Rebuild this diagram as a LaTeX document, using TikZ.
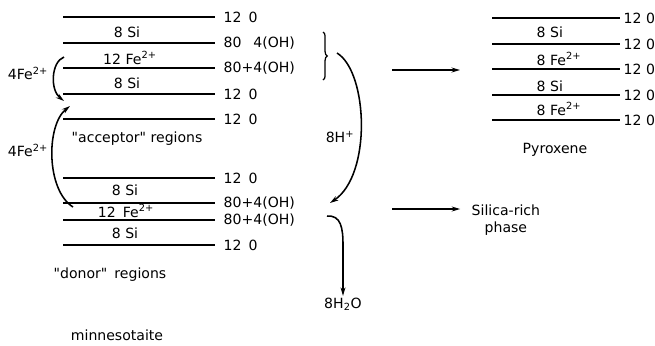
\documentclass[tikz,border=0pt]{standalone}
\usepackage{fontspec}
\setmainfont{DejaVu Sans}[Ligatures=TeXOff]
\usetikzlibrary{arrows.meta,decorations.pathreplacing}

\begin{document}
\begin{tikzpicture}[>={Stealth[length=6pt,width=3.5pt]}, x=0.025cm, y=-0.025cm,
    layer/.style={line width=1.1pt},
    ox/.style={anchor=west, inner sep=1pt},
    cat/.style={anchor=base, inner sep=1pt},
    lab/.style={inner sep=1pt},
    flow/.style={->, line width=1.1pt}]
    \useasboundingbox (0,0) rectangle (655,345);
    % minnesotaite layers
    \foreach \y/\t [count=\i] in {17/12\enspace0, 43/80\phantom{+}4(OH), 68/80+4(OH), 94/12\enspace0, 119/12\enspace0,
        178/12\enspace0, 203/80+4(OH), 220/80+4(OH), 245/12\enspace0} {
        \draw[layer] (63,\y) -- (215,\y);
        \node[ox] (m\i) at (222,\y) {\t};
    }
    \node[cat] (c1) at (127,37) {8 Si};
    \node[cat] (c2) at (130,64) {12 Fe\textsuperscript{2+}};
    \node[cat] (c3) at (127,88) {8 Si};
    \node[cat] (c4) at (125,195) {8 Si};
    \node[cat] (c5) at (126,217) {12\enspace Fe\textsuperscript{2+}};
    \node[cat] (c6) at (125,238) {8 Si};
    \node[lab, anchor=west] (acc) at (70,139) {"acceptor" regions};
    \node[lab, anchor=west] (don) at (52,275) {"donor"\enspace regions};
    \node[lab] (min) at (117,335) {minnesotaite};
    % pyroxene layers
    \foreach \y [count=\i] in {18,44,69,95,120} {
        \draw[layer] (492,\y) -- (620,\y);
        \node[ox] (p\i) at (622,\y) {12 0};
    }
    \node[cat, anchor=base west] (q1) at (535,37) {8 Si};
    \node[cat, anchor=base west] (q2) at (535,65) {8 Fe\textsuperscript{2+}};
    \node[cat, anchor=base west] (q3) at (535,91) {8 Si};
    \node[cat, anchor=base west] (q4) at (535,115) {8 Fe\textsuperscript{2+}};
    \node[lab] (pyr) at (555,150) {Pyroxene};
    % side labels
    \node[lab] (fe1) at (28,73) {4Fe\textsuperscript{2+}};
    \node[lab] (fe2) at (28,150) {4Fe\textsuperscript{2+}};
    \node[lab] (hp) at (340,137) {8H\textsuperscript{+}};
    \node[lab] (wat) at (343,304) {8H\textsubscript{2}O};
    \node[lab, align=center, anchor=west] (sil) at (470,220) {Silica-rich\\phase};
    % brace over the OH layers
    \draw[line width=0.9pt, decorate, decoration={brace, amplitude=3pt}] (323,32) -- (323,80);
    % Fe migration
    \coordinate (a1) at (64,57);
    \coordinate (a2) at (64,101);
    \draw[flow] (a1) .. controls (51,62) and (50,90) .. (a2);
    \coordinate (b1) at (73,207);
    \coordinate (b2) at (70,106);
    \draw[flow] (b1) .. controls (46,190) and (46,125) .. (b2);
    % proton and water
    \coordinate (h1) at (337,53);
    \coordinate (h2) at (330,203);
    \draw[flow] (h1) .. controls (368,72) and (372,175) .. (h2);
    \coordinate (w1) at (327,216);
    \draw[flow] (w1) .. controls (341,215) and (343,228) .. (343,245) -- (wat.north);
    % products
    \coordinate (r1) at (392,70);
    \coordinate (r2) at (460,70);
    \draw[flow] (r1) -- (r2);
    \coordinate (s1) at (392,209);
    \draw[flow, shorten >=7pt] (s1) -- (s1 -| sil.west);
\end{tikzpicture}
\end{document}
